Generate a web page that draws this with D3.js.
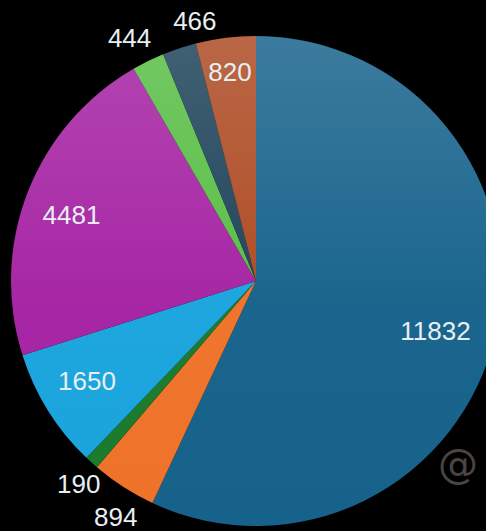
<!DOCTYPE html>
<html>
<head>
<meta charset="utf-8">
<script src="https://cdn.jsdelivr.net/npm/d3@7"></script>
<style>
  html, body { margin: 0; padding: 0; background: #000; }
  svg { display: block; }
</style>
</head>
<body>
<svg id="chart" width="486" height="531"></svg>
<script>
"use strict";

// slices, clockwise from 12 o'clock
const values = [11832, 894, 190, 1650, 4481, 444, 466, 820];
const colors = ["#16628b", "#ef7229", "#1b7a2b", "#1aa4dd", "#a522a3", "#58be45", "#1d4259", "#ad4a22"];
const labels = values.map(String);

// label placement: radius as share of pie radius, plus small angle nudge (deg)
const labelRadius = [0.76, 1.12, 1.10, 0.80, 0.80, 1.12, 1.09, 0.86];
const labelNudge = [3, -2, -1, 1.5, -1.5, -1.3, 5, 0];

const width = 486, height = 531;
const cx = 256, cy = 281, radius = 245;

const svg = d3.select("#chart");
svg.append("rect").attr("width", width).attr("height", height).attr("fill", "#000");

// soft top-to-bottom sheen over the whole pie
const defs = svg.append("defs");
const grad = defs.append("linearGradient")
    .attr("id", "sheen")
    .attr("gradientUnits", "userSpaceOnUse")
    .attr("x1", 0).attr("y1", cy - radius)
    .attr("x2", 0).attr("y2", cy + radius);
grad.append("stop").attr("offset", "0%").attr("stop-color", "#fff").attr("stop-opacity", 0.16);
grad.append("stop").attr("offset", "55%").attr("stop-color", "#fff").attr("stop-opacity", 0.02);
grad.append("stop").attr("offset", "100%").attr("stop-color", "#fff").attr("stop-opacity", 0);

const g = svg.append("g").attr("transform", `translate(${cx},${cy})`);

const pie = d3.pie().sort(null).value(d => d);
const arcs = pie(values);
const arc = d3.arc().innerRadius(0).outerRadius(radius);

g.selectAll("path.slice")
    .data(arcs)
    .enter()
    .append("path")
    .attr("class", "slice")
    .attr("d", arc)
    .attr("fill", (d, i) => colors[i]);

svg.append("circle")
    .attr("cx", cx).attr("cy", cy).attr("r", radius)
    .attr("fill", "url(#sheen)");

function labelXY(d, i) {
    const a = (d.startAngle + d.endAngle) / 2 + labelNudge[i] * Math.PI / 180;
    const r = radius * labelRadius[i];
    return [r * Math.sin(a), -r * Math.cos(a)];
}

svg.append("g")
    .attr("transform", `translate(${cx},${cy})`)
    .selectAll("text")
    .data(arcs)
    .enter()
    .append("text")
    .attr("transform", (d, i) => `translate(${labelXY(d, i)})`)
    .attr("text-anchor", "middle")
    .attr("dy", "0.36em")
    .style("font-family", "'Liberation Sans', Arial, sans-serif")
    .style("font-size", "26px")
    .style("fill", "#e8eff3")
    .text((d, i) => labels[i]);

// watermark
svg.append("text")
    .attr("x", 458).attr("y", 478)
    .attr("text-anchor", "middle")
    .style("font-family", "'DejaVu Sans', sans-serif")
    .style("font-size", "40px")
    .style("fill", "#4a4541")
    .text("@");
</script>
</body>
</html>
